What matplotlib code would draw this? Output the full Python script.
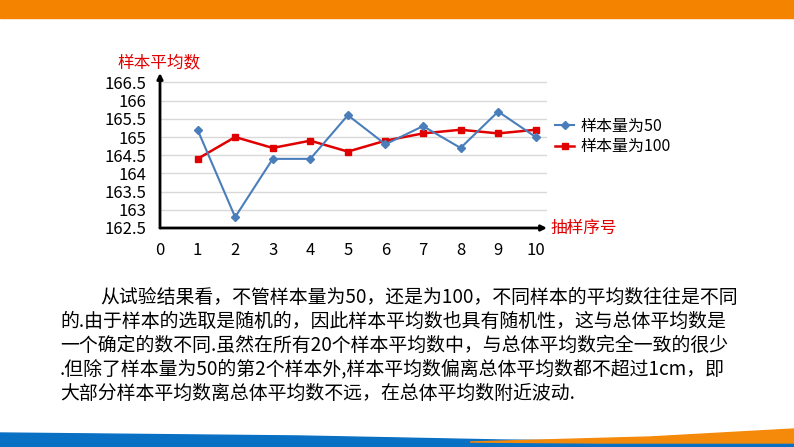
import matplotlib
matplotlib.use('Agg')
import matplotlib.pyplot as plt
from matplotlib.patches import Polygon, Rectangle

plt.rcParams['font.family'] = ['Noto Sans CJK SC', 'DejaVu Sans']

# data
samples = [1, 2, 3, 4, 5, 6, 7, 8, 9, 10]
mean_n50 = [165.2, 162.8, 164.4, 164.4, 165.6, 164.8, 165.3, 164.7, 165.7, 165.0]
mean_n100 = [164.4, 165.0, 164.7, 164.9, 164.6, 164.9, 165.1, 165.2, 165.1, 165.2]
xticks = [0, 1, 2, 3, 4, 5, 6, 7, 8, 9, 10]
yticks = [162.5, 163, 163.5, 164, 164.5, 165, 165.5, 166, 166.5]
ylabels = ['162.5', '163', '163.5', '164', '164.5', '165', '165.5', '166', '166.5']

para = ['从试验结果看，不管样本量为50，还是为100，不同样本的平均数往往是不同',
        '的.由于样本的选取是随机的，因此样本平均数也具有随机性，这与总体平均数是',
        '一个确定的数不同.虽然在所有20个样本平均数中，与总体平均数完全一致的很少',
        '.但除了样本量为50的第2个样本外,样本平均数偏离总体平均数都不超过1cm，即',
        '大部分样本平均数离总体平均数不远，在总体平均数附近波动.']

W, H = 794, 447
fig = plt.figure(figsize=(W / 100, H / 100), dpi=100)

# slide decoration (pixel coords)
bg = fig.add_axes([0, 0, 1, 1])
bg.set_xlim(0, W)
bg.set_ylim(H, 0)
bg.axis('off')
bg.add_patch(Rectangle((0, 0), W, 18, color='#f48400'))
bg.add_patch(Polygon([(0, 433), (300, 436), (500, 440), (794, 443), (794, 447), (0, 447)],
                     closed=True, color='#0a70c4'))
bg.add_patch(Polygon([(470, 442), (650, 437), (794, 429), (794, 443), (600, 443)],
                     closed=True, color='#f58a0a'))

# chart
ax = fig.add_axes([160 / W, 1 - 228 / H, 387 / W, 155 / H])
ax.set_xlim(0, 10.3)
ax.set_ylim(162.5, 166.76)
for y in yticks[1:]:
    ax.axhline(y, color='#d9d9d9', lw=1, zorder=0)
ax.plot(samples, mean_n50, color='#4a7ebb', lw=1.5, marker='D', ms=4,
        label='样本量为50', zorder=3)
ax.plot(samples, mean_n100, color='#e00000', lw=1.8, marker='s', ms=5,
        label='样本量为100', zorder=2)
for s in ax.spines.values():
    s.set_visible(False)
ax.set_xticks(xticks)
ax.set_yticks(yticks)
ax.set_yticklabels(ylabels)
ax.tick_params(length=0, labelsize=12, labelcolor='black')
ax.tick_params(axis='x', pad=10)
ax.tick_params(axis='y', pad=10)

ax.annotate('', xy=(0, 1), xytext=(0, 0), xycoords='axes fraction',
            arrowprops=dict(arrowstyle='-|>', color='black', lw=2, mutation_scale=8,
                            shrinkA=0, shrinkB=0))
ax.annotate('', xy=(1, 0), xytext=(0, 0), xycoords='axes fraction',
            arrowprops=dict(arrowstyle='-|>', color='black', lw=2, mutation_scale=8,
                            shrinkA=0, shrinkB=0))
fig.text(117 / W, 1 - 63 / H, '样本平均数', color='#e00000', fontsize=12,
         va='center', ha='left')
fig.text(550 / W, 1 - 228 / H, '抽样序号', color='#e00000', fontsize=12,
         va='center', ha='left')

ax.legend(loc='upper left', bbox_to_anchor=(555 / W, 1 - 118 / H),
          bbox_transform=fig.transFigure, frameon=False, fontsize=11.5,
          handlelength=1.2, handletextpad=0.4, labelspacing=0.2,
          borderpad=0, borderaxespad=0)

# paragraph
ys = [297, 321, 345, 369, 393]
for i, line in enumerate(para):
    x0 = 100 if i == 0 else 60
    fig.text(x0 / W, 1 - ys[i] / H, line, fontsize=13.6, va='center', ha='left',
             color='black')

fig.savefig('out.png', dpi=100)
